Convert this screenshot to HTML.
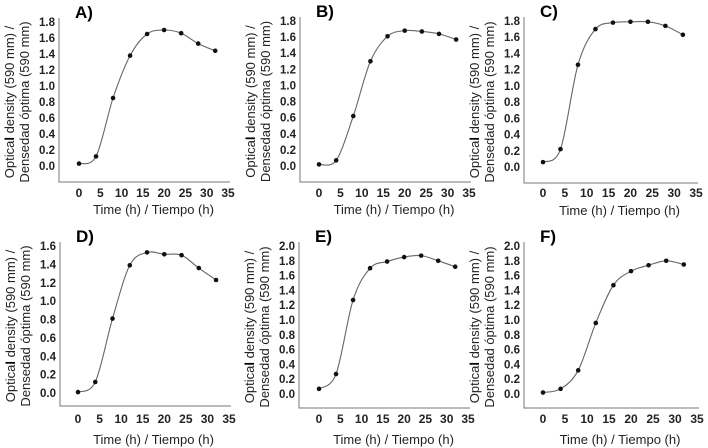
<!DOCTYPE html>
<html><head><meta charset="utf-8"><style>
body{margin:0;background:#fff;}
svg{display:block;font-family:"Liberation Sans",Arial,sans-serif;}
</style></head><body>
<svg id="chart" width="708" height="448" viewBox="0 0 708 448" xmlns="http://www.w3.org/2000/svg"></svg>
<script>
const xTicks=[0,5,10,15,20,25,30,35];
const timesH=[0,4,8,12,16,20,24,28,32];
const panelLabels=["A)","B)","C)","D)","E)","F)"];
const yMaxes=[1.8,1.8,1.8,1.6,2.0,2.0];
const seriesA=[0.03,0.12,0.85,1.38,1.65,1.70,1.66,1.53,1.44];
const seriesB=[0.02,0.07,0.62,1.30,1.61,1.68,1.67,1.64,1.57];
const seriesC=[0.06,0.22,1.26,1.70,1.78,1.79,1.79,1.74,1.63];
const seriesD=[0.01,0.12,0.81,1.39,1.53,1.51,1.50,1.36,1.23];
const seriesE=[0.07,0.27,1.27,1.70,1.79,1.85,1.87,1.80,1.72];
const seriesF=[0.02,0.07,0.32,0.96,1.47,1.66,1.74,1.80,1.75];
const allSeries=[seriesA,seriesB,seriesC,seriesD,seriesE,seriesF];
const geo=[
 {ax:59,x0:79,x1:228,yt:22,y0:166,yb:182,ly:197,ty:214},
 {ax:300,x0:319,x1:469,yt:21,y0:166,yb:182,ly:197,ty:214},
 {ax:524,x0:543,x1:696,yt:21,y0:167,yb:183,ly:197,ty:215},
 {ax:60,x0:78,x1:229,yt:246,y0:393,yb:406,ly:423,ty:444},
 {ax:299,x0:319,x1:468,yt:246,y0:394,yb:408,ly:423,ty:444},
 {ax:524,x0:543,x1:697,yt:246,y0:394,yb:408,ly:423,ty:444}
];
const NS="http://www.w3.org/2000/svg";
const svg=document.getElementById('chart');
function mk(tag,attrs,parent){const e=document.createElementNS(NS,tag);for(const k in attrs)e.setAttribute(k,attrs[k]);(parent||svg).appendChild(e);return e;}
allSeries.forEach((vals,i)=>{
 const g=geo[i];const ymax=yMaxes[i];
 const grp=mk('g',{});
 
 
 const X=v=>g.x0+(g.x1-g.x0)*v/35;
 const Y=v=>g.y0-(g.y0-g.yt)*v/ymax;
 const lbl=mk('text',{x:g.ax+16,y:g.yt-4,'font-size':17,'font-weight':'bold'},grp);lbl.textContent=panelLabels[i];
 
 
 const axes=mk('path',{d:`M${g.ax},${g.yt-4}V${g.yb}H${g.x1+2}`,fill:'none',stroke:'#777','stroke-width':1},grp);
 
 
 for(let v=0;v<=ymax+1e-9;v+=0.2){
  const t=mk('text',{x:g.ax-4,y:Y(v)+4,'font-size':11.5,'text-anchor':'end','fill':'#222','font-weight':'bold'},grp);t.textContent=v.toFixed(1);
  
  
 }
 xTicks.forEach(v=>{const t=mk('text',{x:X(v),y:g.ly,'font-size':12,'text-anchor':'middle','fill':'#222','font-weight':'bold'},grp);t.textContent=v;
  
  });
 const xt=mk('text',{x:(g.x0+g.x1)/2,y:g.ty,'font-size':13,'text-anchor':'middle','fill':'#222'},grp);xt.textContent='Time (h) / Tiempo (h)';
 
 
 const cy=(g.yt+g.yb)/2;
 const y1=mk('text',{x:0,y:0,'font-size':13,'text-anchor':'middle','fill':'#222',transform:`translate(${g.ax-45},${cy}) rotate(-90)`},grp);
 y1.innerHTML='Optica<tspan font-weight="bold" fill="#000">l</tspan> density (590 mm) /';
 
 
 const y2=mk('text',{x:0,y:0,'font-size':13,'text-anchor':'middle','fill':'#222',transform:`translate(${g.ax-30},${cy}) rotate(-90)`},grp);
 y2.textContent='Densedad óptima (590 mm)';
 
 
 const pts=timesH.map((t,k)=>[X(t),Y(vals[k])]);
 let d=`M${pts[0][0]},${pts[0][1]}`;
 for(let k=0;k<pts.length-1;k++){
  const p0=pts[Math.max(k-1,0)],p1=pts[k],p2=pts[k+1],p3=pts[Math.min(k+2,pts.length-1)];
  const c1=[p1[0]+(p2[0]-p0[0])/6,p1[1]+(p2[1]-p0[1])/6];
  const c2=[p2[0]-(p3[0]-p1[0])/6,p2[1]-(p3[1]-p1[1])/6];
  d+=`C${c1[0]},${c1[1]} ${c2[0]},${c2[1]} ${p2[0]},${p2[1]}`;
 }
 const line=mk('path',{d:d,fill:'none',stroke:'#666','stroke-width':1.1},grp);
 
 
 pts.forEach(p=>{const c=mk('circle',{cx:p[0],cy:p[1],r:2.3,fill:'#111'},grp);
  
  });
});
</script>
</body></html>
